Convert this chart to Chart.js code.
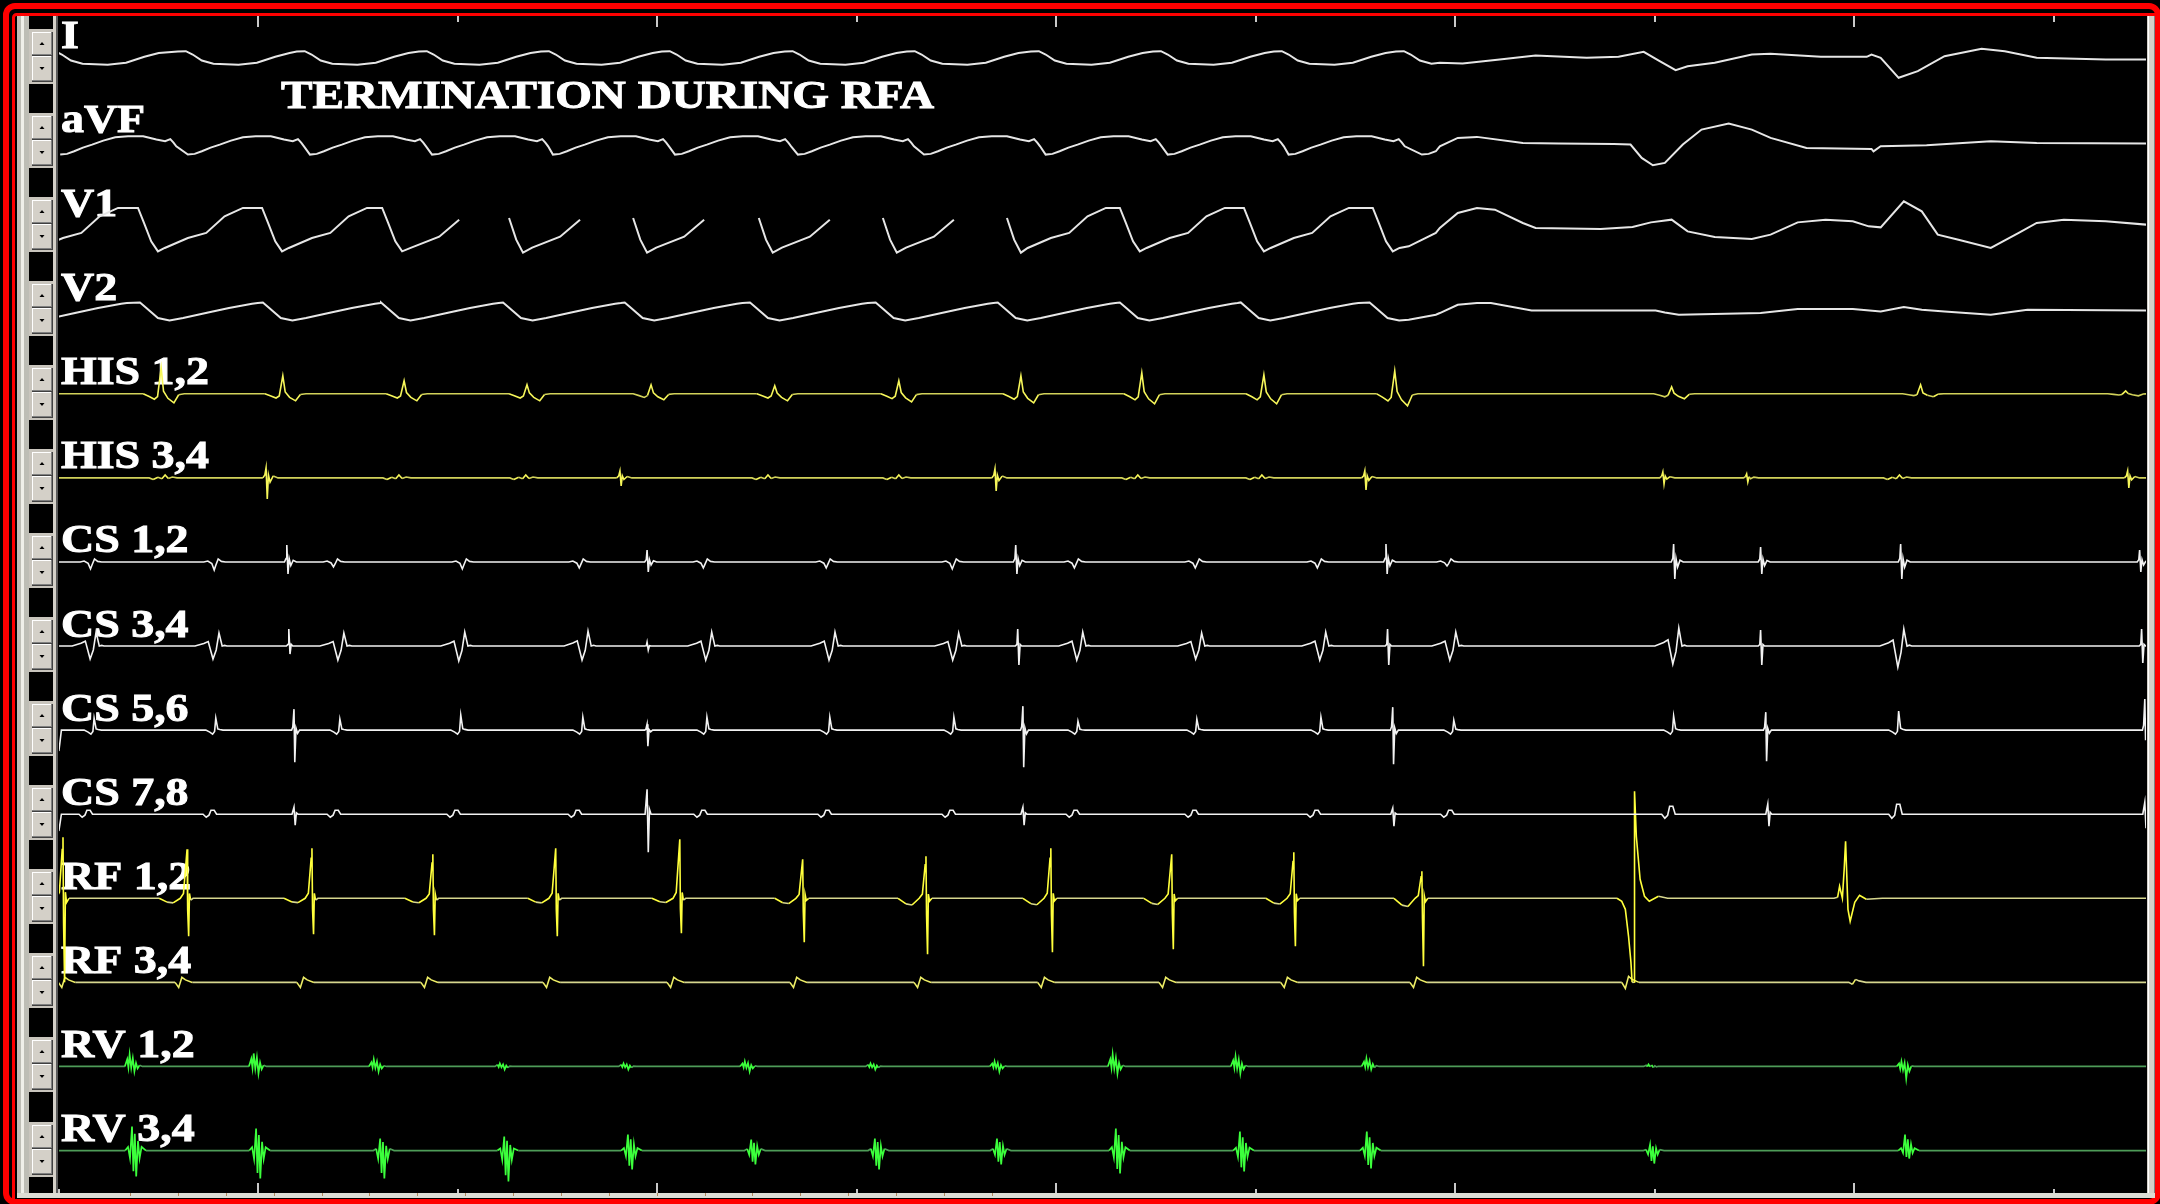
<!DOCTYPE html>
<html>
<head>
<meta charset="utf-8">
<title>Termination during RFA</title>
<script src="https://cdn.jsdelivr.net/npm/chart.js@4.4.1/dist/chart.umd.min.js"></script>
<style>
html, body { margin: 0; padding: 0; background: #000; }
canvas { display: block; }
</style>
</head>
<body>
<canvas id="grafico" width="2160" height="1204"></canvas>
<script>
const ctx = document.getElementById('grafico').getContext('2d');

// ---- layout of the recording (ms on x, amplitude units on y) ----
const LANE = 84.08;
const channelLabels = ['I', 'aVF', 'V1', 'V2', 'HIS 1,2', 'HIS 3,4', 'CS 1,2', 'CS 3,4', 'CS 5,6', 'CS 7,8', 'RF 1,2', 'RF 3,4', 'RV 1,2', 'RV 3,4'];
const timeTicks = [0, 500, 1000, 1500, 2000, 2500, 3000, 3500, 4000, 4500, 5000];
const titleText = 'TERMINATION DURING RFA';

// ---- surface leads ----
const leadIPeaks = [-10, 318, 616, 922, 1228, 1531, 1839, 2145, 2456, 2762, 3065, 3371];
const leadIBeat = [[-20, 6], [0, 6.3], [17, 3], [40, -3], [69, -6.3], [132, -7.3], [178, -5.3], [224, 0.7], [260, 4.5]];
const leadITail = [[3461, -5.3], [3518, -6], [3611, -2], [3701, 2], [3829, -0.3], [3909, 0.7], [3972, 5.7], [4012, -3.7], [4052, -12.7], [4082, -8.7], [4150, -5.3], [4243, 3], [4290, 3.7], [4416, 0.7], [4531, 0.7], [4543, 3], [4566, -0.3], [4611, -20.3], [4659, -13.7], [4726, 1.3], [4819, 8.7], [4877, 6.3], [4957, -0.3], [5130, -2], [5232, -2]];

const aVFTroughs = [3, 323, 629, 935, 1238, 1544, 1852, 2168, 2473, 2779, 3082, 3416];
const aVFBeat = [[0, -13], [17, -12.3], [35, -9.7], [57, -6], [80, -3], [108, 1], [138, 4.3], [170, 5.3], [208, 5.3], [241, 2], [263, 0.3], [276, 2.5], [284, -1], [291, -4.7]];
const aVFTail = [[3461, -4.7], [3506, 3.7], [3554, 4.7], [3669, -1.3], [3759, -2], [3897, -2.3], [3939, -3], [3967, -16.3], [3995, -23.7], [4025, -21.3], [4070, -3], [4117, 12], [4185, 18], [4243, 12], [4290, 3.7], [4380, -6.3], [4543, -7.3], [4548, -9.7], [4566, -4.7], [4681, -3.7], [4842, 0.3], [4957, -1.3], [5232, -2]];

const v1Troughs = [-65, 248, 559, 860, 1163, 1474, 1789, 2100, 2411, 2709, 3020, 3343];
const v1TopClipped = [0, 0, 0, 1, 1, 1, 1, 1, 0, 0, 0];
const v1Fall = [[-50, 17.7], [-35, 2.7], [-17, -15.7], [0, -25.7]];
const v1Rise = [[17, -22.3], [75, -12.3], [121, -7.3], [167, 9.3], [213, 17.7]];
const v1FallClipped = [[-35, 7.7], [-17, -14], [0, -27]];
const v1RiseClipped = [[23, -22], [93, -11], [143, 6], [150, null]];
const v1Tail = [[3383, -20.7], [3451, -7.3], [3461, -2.3], [3506, 12.7], [3554, 17.7], [3599, 16], [3669, 2.7], [3701, -2.3], [3864, -3.3], [3944, -1.3], [3990, 3.3], [4042, 6], [4082, -5.7], [4150, -11.3], [4243, -13.3], [4290, -9], [4358, 3.3], [4428, 6], [4496, 4.3], [4536, -0.7], [4566, -1.7], [4624, 24.3], [4669, 14.3], [4709, -9], [4761, -14], [4842, -22.3], [4912, -7.3], [4957, 2.7], [5025, 6], [5130, 4.3], [5232, 1]];

const v2Troughs = [-80, 248, 556, 852, 1158, 1463, 1777, 2092, 2398, 2704, 3007, 3330];
const v2Fall = [[-45, 7.3], [-29, 1.7], [0, -8.3]];
const v2Rise = [[29, -10.7], [63, -8.3], [120, -3.3], [178, 1.7], [236, 6], [250, 6.7]];
const v2Tail = [[3383, -10], [3451, -5], [3461, -3.3], [3506, 5], [3554, 6.7], [3589, 6.7], [3691, -0.7], [4002, -0.7], [4025, -2.7], [4060, -5], [4265, -3.3], [4358, 0.7], [4496, 0.7], [4566, -1.7], [4624, 2.7], [4669, 0], [4726, -1.7], [4842, -5], [4934, 0], [5232, -0.7]];

// ---- intracardiac channels: shape [dt, v] and beats [t, up, down] ----
const edgeTpl = [[0, -1], [6, 0]];

const his12Tpl = [[-45, 0], [-30, -0.3], [-17, -0.6], [-9, -0.3], [0, 1], [6, 0.1], [17, -0.5], [32, -1], [44, -0.1], [58, 0]];
const his12Beats = [[256, 26, 9], [561, 18, 7], [865, 13, 7], [1173, 9, 7], [1484, 9, 6], [1794, 8, 7], [2105, 13, 8], [2411, 18, 9], [2714, 21, 10], [3020, 19, 10], [3348, 23, 12], [4042, 7, 5], [4666, 9, 3], [5180, 3, 2]];

const his34SharpTpl = [[-8, 0], [-3, 0.3], [0, 1], [3, -1], [6, 0.3], [10, -0.2], [18, 0.2], [30, 0]];
const his34Sharp = [[519, 10, 21], [1406, 7, 8], [2346, 9, 13], [3273, 7, 12], [4020, 6, 6], [4230, 4, 4], [5185, 7, 10]];
const his34WaveTpl = [[-40, 0], [-30, -0.5], [-18, 0.2], [-8, -0.3], [0, 1], [8, -0.2], [18, 0.3], [30, 0]];
const his34Waves = [[266, 3, 3], [852, 3, 3], [1170, 3, 3], [1777, 3, 3], [2105, 3, 3], [2704, 3, 3], [3015, 3, 3], [4613, 3, 3]];

const cs12SharpTpl = [[-6, 0], [-2, 0.2], [0, 1], [3, -1], [6, 0.2], [10, -0.3], [16, 0.1], [24, 0]];
const cs12Sharp = [[571, 17, 12], [1474, 12, 10], [2398, 17, 12], [3326, 18, 12], [4047, 18, 17], [4265, 15, 12], [4616, 18, 17], [5215, 12, 10]];
const cs12SmallTpl = [[-30, 0], [-20, 0.3], [-10, -0.2], [-4, -1], [0, -0.4], [6, 1], [14, 0.2], [24, 0]];
const cs12Small = [[83, 3, 7], [393, 3, 8], [692, 3, 5], [1015, 3, 7], [1308, 3, 6], [1619, 3, 6], [1927, 3, 6], [2243, 3, 7], [2549, 3, 6], [2852, 3, 6], [3158, 3, 6], [3483, 3, 4]];

const cs34Tpl = [[-60, 0], [-38, 0.2], [-27, 0.35], [-15, -1], [-7, -0.3], [0, 1], [8, 0], [14, 0.05], [20, 0]];
const cs34Beats = [[93, 14, 13], [401, 13, 13], [714, 13, 14], [1017, 14, 15], [1326, 15, 14], [1636, 14, 14], [1945, 14, 14], [2255, 13, 14], [2566, 14, 14], [2864, 13, 13], [3175, 14, 14], [3501, 14, 14], [4060, 18, 18], [4624, 17, 21]];
const cs34SharpTpl = [[-6, 0], [-2, 0.1], [0, 1], [3, -1], [6, 0.1], [10, 0]];
const cs34Sharp = [[576, 17, 8], [1474, 4, 4], [2403, 17, 19], [3330, 17, 19], [4265, 16, 19], [5220, 17, 17]];

const cs56Tpl = [[-25, 0], [-15, -0.5], [-8, -1], [-3, -0.3], [0, 1], [5, 0.1], [10, 0.05], [18, 0]];
const cs56Beats = [[88, 12, 4], [393, 12, 4], [704, 11, 4], [1007, 15, 4], [1313, 13, 4], [1624, 13, 4], [1932, 13, 4], [2243, 13, 4], [2554, 9, 4], [2852, 11, 4], [3163, 13, 4], [3496, 10, 4], [4047, 14, 4], [4611, 19, 4]];
const cs56SharpTpl = [[-6, 0], [-3, 0.15], [0, 1], [2, -1], [5, 0.1], [9, -0.1], [14, 0]];
const cs56Sharp = [[589, 21, 32], [1474, 6, 16], [2416, 24, 37], [3343, 23, 34], [4278, 18, 31], [5228, 31, 10]];
const cs56Start = [[0, 0, 20]];

const cs78Tpl = [[-20, 0], [-12, -1], [-5, -0.3], [0, 1], [8, 1], [14, 0]];
const cs78Beats = [[70, 4, 3], [381, 4, 3], [692, 4, 3], [992, 4, 3], [1296, 4, 3], [1611, 4, 3], [1922, 4, 3], [2233, 4, 3], [2544, 4, 3], [2842, 4, 3], [3148, 4, 3], [3483, 4, 3], [4037, 8, 4], [4606, 10, 4]];
const cs78SharpTpl = [[-5, 0], [0, 1], [3, -1], [6, 0.2], [10, 0]];
const cs78Sharp = [[589, 7, 11], [1474, 25, 38], [2416, 7, 11], [3343, 6, 12], [4283, 10, 12], [5228, 12, 14]];
const cs78Start = [[0, 0, 16]];

const rf12Tpl = [[-70, 0], [-50, -0.1], [-35, -0.12], [-17, 0], [-9, 0.1], [-2, 0.8], [0, 1], [1.5, -0.3], [4, -1], [6, 0.1], [9, -0.05], [15, 0]];
const rf12Beats = [[10, 61, 84], [321, 49, 38], [634, 50, 36], [937, 44, 37], [1245, 50, 38], [1556, 59, 35], [1864, 39, 44], [2173, 42, 56], [2486, 50, 54], [2789, 44, 51], [3095, 46, 48], [3416, 27, 68]];
const rf12BigTpl = [[-44, 0], [-32, -3], [-23, -11], [-15, -38], [-9, -64], [-6, -84], [-1, -84], [0, 107], [4.5, 62], [14, 19], [25, 2], [37, -3], [60, 2], [83, 0]];
const rf12LateTpl = [[-29, 0], [-20, 1], [-15, 12], [-8, 0], [-3.5, 29], [0, 57], [6, -11], [11.5, -23], [23, -4], [35, 3], [52, -1], [92, 0]];
const rf12Big = [[3949, 1, 1]];
const rf12Late = [[4478, 1, 1]];

const rf34Tpl = [[-15, 0], [-6, -1], [2, 1], [11, 0.5], [28, 0]];
const rf34Beats = [[13, 5, 5], [306, 5, 5], [611, 5, 5], [922, 5, 5], [1228, 5, 5], [1539, 5, 5], [1847, 5, 5], [2158, 5, 5], [2468, 5, 5], [2772, 5, 5], [3077, 5, 5], [3401, 5, 5], [3932, 6, 6], [4501, 3, 2]];

const rv12Tpl = [[-20, 0], [-14, 0.6], [-11, -0.2], [-8, 1], [-4, -0.3], [0, 0.7], [4, -1], [8, 0.3], [12, -0.4], [17, 0.1], [24, 0]];
const rv12Beats = [[185, 12, 5], [496, 13, 7], [797, 7, 5], [1113, 3, 3], [1423, 3, 3], [1727, 5, 5], [2042, 3, 3], [2353, 5, 5], [2649, 12, 7], [2957, 10, 7], [3285, 8, 3], [3992, 2, 1], [4626, 5, 12]];

const rv34Tpl = [[-24, 0], [-17, 0.15], [-12, -0.3], [-7, 1], [-3.5, -0.8], [0, 0.7], [3.5, -1], [8, 0.4], [12, -0.3], [17, 0.15], [28, 0]];
const rv34Beats = [[190, 24, 26], [501, 22, 28], [812, 12, 28], [1123, 14, 31], [1433, 16, 19], [1742, 11, 14], [2052, 12, 19], [2358, 12, 14], [2656, 22, 23], [2967, 19, 21], [3285, 19, 18], [3995, 6, 13], [4634, 16, 8]];

// ---- build point lists ----
function spikeTrace(parts) {
  const pts = [[-100, 0], [5300, 0]];
  parts.forEach(([tpl, beats]) => {
    beats.forEach(([t, up, down]) => {
      tpl.forEach(([dt, v]) => pts.push([t + dt, v >= 0 ? v * up : v * down]));
    });
  });
  return pts.sort((a, b) => a[0] - b[0]);
}

function waveTrace(events, tpl, tail) {
  const stop = tail[0][0];
  const pts = [];
  events.forEach(t => tpl.forEach(([dt, v]) => { if (t + dt < stop) pts.push([t + dt, v]); }));
  return pts.sort((a, b) => a[0] - b[0]).concat(tail);
}

function troughTrace(troughs, clipped, fall, rise, fallClip, riseClip, tail) {
  const stop = tail[0][0];
  const pts = [];
  troughs.forEach((t, i) => {
    const f = i > 0 && clipped[i - 1] ? fallClip : fall;
    const r = clipped[i] ? riseClip : rise;
    f.concat(r).forEach(([dt, v]) => { if (t + dt < stop) pts.push([t + dt, v]); });
  });
  return pts.sort((a, b) => a[0] - b[0]).concat(tail);
}

const SURF = '#e6e6e6', CSW = '#f2f2f2';
const traces = [
  { pts: waveTrace(leadIPeaks, leadIBeat, leadITail), base: SURF, width: 2 },
  { pts: waveTrace(aVFTroughs, aVFBeat, aVFTail), base: SURF, width: 2 },
  { pts: troughTrace(v1Troughs, v1TopClipped, v1Fall, v1Rise, v1FallClipped, v1RiseClipped, v1Tail), base: SURF, width: 2 },
  { pts: troughTrace(v2Troughs, [], v2Fall, v2Rise, v2Fall, v2Rise, v2Tail), base: SURF, width: 2 },
  { pts: spikeTrace([[his12Tpl, his12Beats]]), base: '#d2d25a', bright: '#f6f65a', width: 1.6 },
  { pts: spikeTrace([[his34SharpTpl, his34Sharp], [his34WaveTpl, his34Waves]]), base: '#d2d25a', bright: '#f6f65a', width: 1.6 },
  { pts: spikeTrace([[cs12SharpTpl, cs12Sharp], [cs12SmallTpl, cs12Small]]), base: CSW, width: 1.6 },
  { pts: spikeTrace([[cs34Tpl, cs34Beats], [cs34SharpTpl, cs34Sharp]]), base: CSW, width: 1.6 },
  { pts: spikeTrace([[cs56Tpl, cs56Beats], [cs56SharpTpl, cs56Sharp], [edgeTpl, cs56Start]]), base: CSW, width: 1.6 },
  { pts: spikeTrace([[cs78Tpl, cs78Beats], [cs78SharpTpl, cs78Sharp], [edgeTpl, cs78Start]]), base: CSW, width: 1.6 },
  { pts: spikeTrace([[rf12Tpl, rf12Beats], [rf12BigTpl, rf12Big], [rf12LateTpl, rf12Late]]), base: '#d6d68e', bright: '#ffff3c', width: 1.6 },
  { pts: spikeTrace([[rf34Tpl, rf34Beats]]), base: '#d6d68e', bright: '#eeee66', width: 1.6 },
  { pts: spikeTrace([[rv12Tpl, rv12Beats]]), base: '#4e9c58', bright: '#3cff3c', width: 1.7 },
  { pts: spikeTrace([[rv34Tpl, rv34Beats]]), base: '#4e9c58', bright: '#3cff3c', width: 1.7 }
];

const datasets = traces.map((tr, k) => ({
  data: tr.pts.map(([x, v]) => ({ x: x, y: v === null ? null : v - k * LANE })),
  borderColor: tr.base,
  borderWidth: tr.width,
  spanGaps: false,
  pointRadius: 0,
  tension: 0,
  segment: tr.bright ? {
    borderColor: c => Math.abs(c.p1.parsed.y - c.p0.parsed.y) > 2 ? tr.bright : tr.base
  } : undefined
}));

// ---- window furniture drawn around the plot ----
function button(c, x, y, w, h, up) {
  c.fillStyle = '#d4d0c8'; c.fillRect(x, y, w, h);
  c.fillStyle = '#ffffff'; c.fillRect(x, y, w, 1); c.fillRect(x, y, 1, h);
  c.fillStyle = '#808080'; c.fillRect(x, y + h - 1, w, 1); c.fillRect(x + w - 1, y, 1, h);
  c.fillStyle = '#404040'; c.fillRect(x, y + h, w + 1, 1); c.fillRect(x + w, y, 1, h + 1);
  const cx = x + w / 2, cy = y + h / 2;
  c.fillStyle = '#000';
  c.beginPath();
  if (up) { c.moveTo(cx - 2.5, cy + 1.5); c.lineTo(cx + 2.5, cy + 1.5); c.lineTo(cx, cy - 1.5); }
  else { c.moveTo(cx - 2.5, cy - 1.5); c.lineTo(cx + 2.5, cy - 1.5); c.lineTo(cx, cy + 1.5); }
  c.closePath();
  c.fill();
}

function boldText(c, txt, x, y, sx) {
  c.save();
  c.translate(x, y);
  c.scale(sx, 1);
  c.fillText(txt, 0, 0);
  c.strokeText(txt, 0, 0);
  c.restore();
}

const decor = {
  id: 'decor',
  beforeDraw(chart) {
    const c = chart.ctx, xs = chart.scales.x, ys = chart.scales.y;
    c.save();
    c.fillStyle = '#000';
    c.fillRect(0, 0, chart.width, chart.height);

    // red double frame
    c.strokeStyle = '#ff0000';
    c.lineWidth = 6;
    c.beginPath(); c.roundRect(6, 6, 2152, 1196, 9); c.stroke();
    c.lineWidth = 3;
    c.beginPath(); c.roundRect(13.5, 14.5, 2160, 1200, 3); c.stroke();

    // left panel
    c.fillStyle = '#bdbdb5'; c.fillRect(17, 16, 12, 1182);
    c.fillStyle = '#efefe9'; c.fillRect(21, 16, 3, 1182);
    c.fillStyle = '#d4d0c8'; c.fillRect(53, 16, 3, 1177);
    c.fillStyle = '#5a5a5a'; c.fillRect(56, 16, 2, 1177);
    channelLabels.forEach((_, k) => {
      const py = Math.round(ys.getPixelForValue(-k * LANE));
      c.fillStyle = '#c9c5bd'; c.fillRect(29, py - 29, 24, 55);
      button(c, 32, py - 26, 20, 23, true);
      button(c, 32, py - 2, 20, 25, false);
    });

    // right and bottom bars
    c.fillStyle = '#d4d0c8'; c.fillRect(2147, 16, 8, 1182);
    c.fillStyle = '#ffffff'; c.fillRect(2148, 16, 1, 1182);
    c.fillStyle = '#808080'; c.fillRect(2154, 16, 1, 1182);
    c.fillStyle = '#dcdcd4'; c.fillRect(17, 1193, 2138, 5);

    // time marks
    c.fillStyle = '#c8c8c8';
    timeTicks.forEach((t, n) => {
      const px = Math.round(xs.getPixelForValue(t));
      if (n > 0) c.fillRect(px - 1, 16, 2, n % 2 ? 11 : 6);
      c.fillRect(px - 1, n % 2 ? 1183 : 1189, 2, n % 2 ? 10 : 4);
    });
    c.fillStyle = '#b08a60';
    for (let t = 178; t < 2420; t += 120) {
      c.fillRect(Math.round(xs.getPixelForValue(t)), 1193, 1, 3);
    }

    // channel names and title
    c.fillStyle = '#ffffff';
    c.strokeStyle = '#ffffff';
    c.lineWidth = 1;
    c.font = 'bold 41px "Liberation Serif", "Times New Roman", serif';
    c.textBaseline = 'alphabetic';
    channelLabels.forEach((txt, k) => {
      boldText(c, txt, 61, ys.getPixelForValue(-k * LANE) - 9.5, 1.12);
    });
    boldText(c, titleText, 281, 108, 1.15);
    c.restore();
  }
};

const myChart = new Chart(ctx, {
  type: 'line',
  data: { datasets: datasets },
  options: {
    responsive: false,
    devicePixelRatio: 1,
    animation: false,
    events: [],
    layout: { padding: { left: 59, right: 14, top: 16, bottom: 11 } },
    plugins: { legend: { display: false }, tooltip: { enabled: false } },
    scales: {
      x: { type: 'linear', min: 0, max: 5231, display: false },
      y: { type: 'linear', min: -1135.5, max: 41.5, display: false }
    }
  },
  plugins: [decor]
});
</script>
</body>
</html>
